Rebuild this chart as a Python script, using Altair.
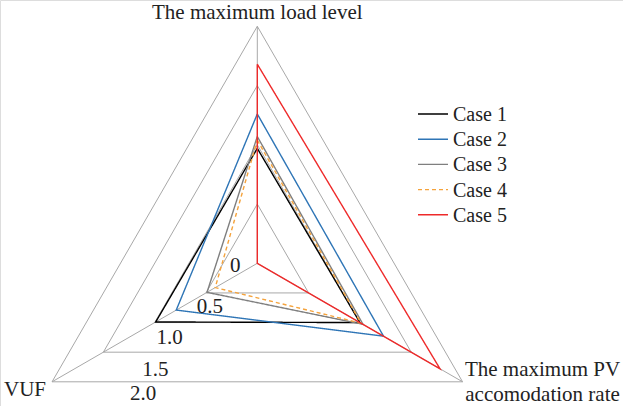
import math
import altair as alt
import pandas as pd

# ---- data -------------------------------------------------------------
axis_names = ["The maximum load level", "The maximum PV\naccomodation rate", "VUF"]
cases = ["Case 1", "Case 2", "Case 3", "Case 4", "Case 5"]
load_level = [0.97, 1.26, 1.07, 1.04, 1.68]
pv_rate = [1.00, 1.23, 1.03, 1.01, 1.78]
vuf = [0.99, 0.79, 0.49, 0.41, 0.00]
grid_levels = [0.5, 1.0, 1.5, 2.0]
tick_values = [0.0, 0.5, 1.0, 1.5, 2.0]
tick_labels = ["0", "0.5", "1.0", "1.5", "2.0"]

# ---- styling ----------------------------------------------------------
colors = ["#000000", "#2e75b6", "#7f7f7f", "#f5a33c", "#ee2a2a"]
dashes = [[1, 0], [1, 0], [1, 0], [4, 3], [1, 0]]
GRID = "#a8a8a8"
TEXT = "#222222"
FONT = "Liberation Serif"

W, H = 623, 406
CX, CY = 257.3, 263.3          # radar centre in pixels
S = 118.5                      # pixels per unit of value

# spoke directions (y up): load level at top, PV bottom-right, VUF bottom-left
angles = [90, -30, 210]


def polar(v, k):
    a = math.radians(angles[k])
    return v * math.cos(a), v * math.sin(a)


def shift(x, y, dx_px, dy_px):
    """Move a point given in value units by an offset in pixels (y down)."""
    return x + dx_px / S, y - dy_px / S


def px(xp, yp):
    return (xp - CX) / S, (CY - yp) / S


xs = alt.Scale(domain=[-CX / S, (W - CX) / S], range=[0, W], nice=False, zero=False)
ys = alt.Scale(domain=[(CY - H) / S, CY / S], range=[H, 0], nice=False, zero=False)
X = lambda f: alt.X(f, type="quantitative", scale=xs, axis=None)
Y = lambda f: alt.Y(f, type="quantitative", scale=ys, axis=None)
color_enc = alt.Color("case:N", scale=alt.Scale(domain=cases, range=colors), legend=None)
dash_enc = alt.StrokeDash("case:N", scale=alt.Scale(domain=cases, range=dashes), legend=None)

# ---- grid triangles and spokes -------------------------------------------
grid_rows = []
for lv in grid_levels:
    for i, k in enumerate([0, 1, 2, 0]):
        x, y = polar(lv, k)
        grid_rows.append({"level": lv, "o": i, "x": x, "y": y})
grid_df = pd.DataFrame(grid_rows)

spoke_rows = []
for k in range(3):
    x, y = polar(grid_levels[-1], k)
    spoke_rows.append({"x": 0.0, "y": 0.0, "x2": x, "y2": y})
spoke_df = pd.DataFrame(spoke_rows)

grid = alt.Chart(grid_df).mark_line(color=GRID, strokeWidth=1).encode(
    x=X("x"), y=Y("y"), detail="level:N", order="o:Q"
)
spokes = alt.Chart(spoke_df).mark_rule(color=GRID, strokeWidth=1).encode(
    x=X("x"), y=Y("y"), x2="x2:Q", y2="y2:Q"
)

# ---- case polygons ------------------------------------------------------
rows = []
for c, vals in zip(cases, zip(load_level, pv_rate, vuf)):
    for i, k in enumerate([0, 1, 2, 0]):
        x, y = polar(vals[k], k)
        rows.append({"case": c, "o": i, "x": x, "y": y})
case_df = pd.DataFrame(rows)

series = alt.Chart(case_df).mark_line(strokeWidth=1.4).encode(
    x=X("x"), y=Y("y"), color=color_enc, strokeDash=dash_enc, order="o:Q"
)

# ---- axis names -----------------------------------------------------------
tx, ty = polar(grid_levels[-1], 0)
px_, py_ = polar(grid_levels[-1], 1)
vx, vy = polar(grid_levels[-1], 2)

txt = dict(font=FONT, fontSize=21, color=TEXT, baseline="alphabetic")
title_top = alt.Chart(pd.DataFrame([{"x": tx, "y": ty, "t": axis_names[0]}])).mark_text(
    align="center", dy=-7, **txt
).encode(x=X("x"), y=Y("y"), text="t:N")
title_pv = alt.Chart(pd.DataFrame([{"x": px_, "y": py_, "t": axis_names[1]}])).mark_text(
    align="center", dx=80, dy=-6, lineBreak="\n", lineHeight=25, **txt
).encode(x=X("x"), y=Y("y"), text="t:N")
title_vuf = alt.Chart(pd.DataFrame([{"x": vx, "y": vy, "t": axis_names[2]}])).mark_text(
    align="right", dx=-6, dy=14, **txt
).encode(x=X("x"), y=Y("y"), text="t:N")

# ---- value labels, set beside the VUF spoke ------------------------------
label_offsets = [(-22, 9), (4, 20), (15, 21), (52, 24), (91, 18)]
tick_rows = []
for v, lab, (dx, dy) in zip(tick_values, tick_labels, label_offsets):
    x, y = polar(v, 2)
    x, y = shift(x, y, dx, dy)
    tick_rows.append({"x": x, "y": y, "t": lab})
ticks = alt.Chart(pd.DataFrame(tick_rows)).mark_text(align="center", **txt).encode(
    x=X("x"), y=Y("y"), text="t:N"
)

# ---- legend -------------------------------------------------------------
leg_rows = []
for i, c in enumerate(cases):
    yline = 114 + 25.2 * i
    x1, yy = px(418, yline)
    x2, _ = px(448, yline)
    xt, yt = px(453, yline + 7)
    leg_rows.append({"case": c, "x": x1, "x2": x2, "y": yy, "xt": xt, "yt": yt})
leg_df = pd.DataFrame(leg_rows)

leg_lines = alt.Chart(leg_df).mark_rule(strokeWidth=1.4).encode(
    x=X("x"), x2="x2:Q", y=Y("y"), color=color_enc, strokeDash=dash_enc
)
leg_text = alt.Chart(leg_df).mark_text(
    align="left", font=FONT, fontSize=20, color=TEXT, baseline="alphabetic"
).encode(x=X("xt"), y=Y("yt"), text="case:N")

chart = (
    alt.layer(grid, spokes, series, title_top, title_pv, title_vuf, ticks, leg_lines, leg_text)
    .properties(width=W, height=H, padding=0, autosize=alt.AutoSizeParams(type="none"))
    .configure_view(stroke=None)
    .configure(background="white")
)

chart.save("out.html", embed_options={"renderer": "svg", "actions": False})
